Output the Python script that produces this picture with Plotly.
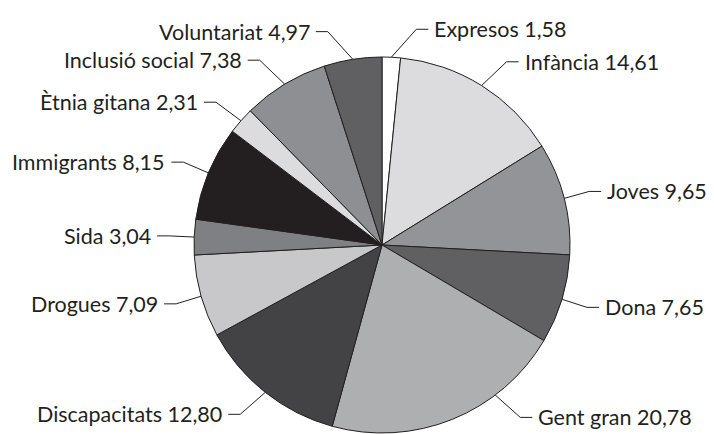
import math
import plotly.graph_objects as go

# dades: percentatge per col·lectiu (sentit horari des de les 12)
labels = ["Expresos", "Infància", "Joves", "Dona", "Gent gran", "Discapacitats",
          "Drogues", "Sida", "Immigrants", "Ètnia gitana", "Inclusió social", "Voluntariat"]
values = [1.58, 14.61, 9.65, 7.65, 20.78, 12.80, 7.09, 3.04, 8.15, 2.31, 7.38, 4.97]
colors = ["#ffffff", "#dcdcde", "#939497", "#606062", "#aeafb1", "#434345",
          "#c8c8ca", "#7f8083", "#231f20", "#dcdcde", "#8e8f92", "#606062"]

W, H = 714, 434
CX, CY, R = 382, 245, 188
INK = "#231f20"
FONT = "Lato"

fig = go.Figure(go.Pie(
    labels=labels,
    values=values,
    sort=False,
    direction="clockwise",
    rotation=0,
    marker=dict(colors=colors, line=dict(color=INK, width=1)),
    textinfo="none",
    showlegend=False,
    domain=dict(x=[(CX - R) / W, (CX + R) / W], y=[1 - (CY + R) / H, 1 - (CY - R) / H]),
))


def px(x, y):
    return x / W, 1 - y / H


def leader(theta):
    s, c = math.sin(math.radians(theta)), math.cos(math.radians(theta))
    sg = 1 if s >= 0 else -1
    p = (CX + R * s, CY - R * c)
    e = (p[0] + 25 * sg, p[1] - 28 * c)
    t = (e[0] + 12 * sg, e[1])
    return p, e, t, sg


total = sum(values)
cum = 0.0
for lab, v in zip(labels, values):
    a0 = cum / total * 360
    a1 = (cum + v) / total * 360
    cum += v
    mid = (a0 + a1) / 2
    # si l'etiqueta surt del requadre, es desplaça dins la porció
    theta = mid
    for k in range(0, int((a1 - a0) / 2)):
        ok = None
        for cand in (mid - k, mid + k):
            _, e, _, _ = leader(cand)
            if 18 <= e[1] <= 418:
                ok = cand
                break
        if ok is not None:
            theta = ok
            break
    p, e, t, sg = leader(theta)
    a, b, c = px(*p), px(*e), px(*t)
    fig.add_shape(type="path", xref="paper", yref="paper",
                  path=f"M {a[0]},{a[1]} L {b[0]},{b[1]} L {c[0]},{c[1]}",
                  line=dict(color=INK, width=1))
    tx, ty = px(t[0] + 4 * sg, t[1])
    fig.add_annotation(x=tx, y=ty, xref="paper", yref="paper",
                       text=f"{lab} {v:.2f}".replace(".", ","),
                       showarrow=False, xanchor="left" if sg > 0 else "right",
                       yanchor="middle", font=dict(family=FONT, size=21.5, color=INK))

fig.update_layout(
    width=W, height=H,
    margin=dict(l=0, r=0, t=0, b=0),
    paper_bgcolor="white",
    plot_bgcolor="white",
)

# sense el marge per defecte del body, la figura omple la finestra
fig.write_html("out.html", config={"displayModeBar": False},
               post_script="document.body.style.margin='0';")
